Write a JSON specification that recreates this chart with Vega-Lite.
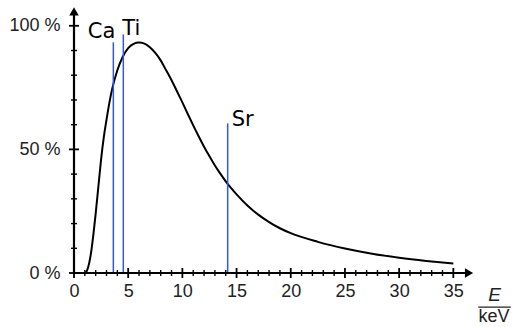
{
  "$schema": "https://vega.github.io/schema/vega-lite/v6.json",
  "width": 401,
  "height": 266,
  "autosize": {"type": "none"},
  "padding": {"left": 74, "top": 7, "right": 39, "bottom": 54},
  "background": "white",
  "config": {"view": {"stroke": null}},
  "datasets": {
    "curve": [
      {"E": 1.0, "I": 0}, {"E": 1.2, "I": 1}, {"E": 1.4, "I": 4}, {"E": 1.6, "I": 9},
      {"E": 1.8, "I": 16}, {"E": 2.0, "I": 24}, {"E": 2.25, "I": 35}, {"E": 2.5, "I": 46},
      {"E": 2.75, "I": 55}, {"E": 3.0, "I": 62}, {"E": 3.25, "I": 68.5}, {"E": 3.5, "I": 74}, {"E": 4.0, "I": 82},
      {"E": 4.5, "I": 87.5}, {"E": 5.0, "I": 91}, {"E": 5.5, "I": 92.7}, {"E": 6.0, "I": 93.2},
      {"E": 6.5, "I": 92.8}, {"E": 7.0, "I": 91.3}, {"E": 7.5, "I": 89}, {"E": 8.0, "I": 86},
      {"E": 8.5, "I": 82}, {"E": 9.0, "I": 78}, {"E": 9.5, "I": 73.5}, {"E": 10.0, "I": 69},
      {"E": 10.5, "I": 64.3}, {"E": 11.0, "I": 59.7}, {"E": 11.5, "I": 55.3}, {"E": 12.0, "I": 51.1},
      {"E": 12.5, "I": 47.2}, {"E": 13.0, "I": 43.5}, {"E": 13.5, "I": 40.2}, {"E": 14.0, "I": 37.1},
      {"E": 14.5, "I": 34.3}, {"E": 15.0, "I": 31.8}, {"E": 16.0, "I": 27.3}, {"E": 17.0, "I": 23.6},
      {"E": 18.0, "I": 20.6}, {"E": 19.0, "I": 18.1}, {"E": 20.0, "I": 16.1}, {"E": 22.5, "I": 12.6},
      {"E": 25.0, "I": 9.9}, {"E": 27.5, "I": 7.8}, {"E": 30.0, "I": 6.2}, {"E": 32.5, "I": 4.9},
      {"E": 35.0, "I": 3.8}
    ],
    "lines": [
      {"el": "Ca", "E": 3.63, "top": 93.3, "base": 0},
      {"el": "Ti", "E": 4.55, "top": 96.5, "base": 0},
      {"el": "Sr", "E": 14.18, "top": 60.5, "base": 0}
    ],
    "xticks": [
      {"t": 0, "k": "major"}, {"t": 1, "k": "minor"}, {"t": 2, "k": "minor"}, {"t": 3, "k": "minor"}, {"t": 4, "k": "minor"},
      {"t": 5, "k": "major"}, {"t": 6, "k": "minor"}, {"t": 7, "k": "minor"}, {"t": 8, "k": "minor"}, {"t": 9, "k": "minor"},
      {"t": 10, "k": "major"}, {"t": 11, "k": "minor"}, {"t": 12, "k": "minor"}, {"t": 13, "k": "minor"}, {"t": 14, "k": "minor"},
      {"t": 15, "k": "major"}, {"t": 16, "k": "minor"}, {"t": 17, "k": "minor"}, {"t": 18, "k": "minor"}, {"t": 19, "k": "minor"},
      {"t": 20, "k": "major"}, {"t": 21, "k": "minor"}, {"t": 22, "k": "minor"}, {"t": 23, "k": "minor"}, {"t": 24, "k": "minor"},
      {"t": 25, "k": "major"}, {"t": 26, "k": "minor"}, {"t": 27, "k": "minor"}, {"t": 28, "k": "minor"}, {"t": 29, "k": "minor"},
      {"t": 30, "k": "major"}, {"t": 31, "k": "minor"}, {"t": 32, "k": "minor"}, {"t": 33, "k": "minor"}, {"t": 34, "k": "minor"},
      {"t": 35, "k": "major"}
    ],
    "yticks": [
      {"t": 0, "k": "major"}, {"t": 10, "k": "minor"}, {"t": 20, "k": "minor"}, {"t": 30, "k": "minor"}, {"t": 40, "k": "minor"},
      {"t": 50, "k": "major"}, {"t": 60, "k": "minor"}, {"t": 70, "k": "minor"}, {"t": 80, "k": "minor"}, {"t": 90, "k": "minor"},
      {"t": 100, "k": "major"}
    ],
    "unit": [
      {"part": "num", "txt": "E", "x": 38.8, "y": -9.0},
      {"part": "den", "txt": "keV", "x": 38.75, "y": -18.0}
    ],
    "frac": [{"x1": 37.3, "x2": 40.3, "y": -13.8}],
    "xaxis": [{"x1": 0, "x2": 36.3, "y": 0}],
    "yaxis": [{"x": 0, "y1": 0, "y2": 105.5}],
    "arrows": [
      {"dir": "right", "x": 36.45, "y": 0},
      {"dir": "up", "x": 0, "y": 105.8}
    ]
  },
  "layer": [
    {
      "data": {"name": "curve"},
      "mark": {"type": "line", "color": "black", "strokeWidth": 2, "interpolate": "monotone"},
      "encoding": {
        "x": {"field": "E", "type": "quantitative", "scale": {"domain": [0, 37], "nice": false},
          "axis": {"values": [0, 5, 10, 15, 20, 25, 30, 35], "domain": false, "ticks": false, "grid": false,
            "labelFont": "Liberation Sans", "labelFontSize": 18, "labelColor": "#222", "labelPadding": 9,
            "labelFlush": false, "title": null}},
        "y": {"field": "I", "type": "quantitative", "scale": {"domain": [0, 107.6], "nice": false},
          "axis": {"values": [0, 50, 100], "domain": false, "ticks": false, "grid": false,
            "labelExpr": "datum.value + ' %'", "labelFont": "Liberation Sans", "labelFontSize": 18,
            "labelColor": "#222", "labelPadding": 14, "title": null}}
      }
    },
    {
      "data": {"name": "lines"},
      "mark": {"type": "rule", "color": "#3355f5", "strokeWidth": 1.5},
      "encoding": {
        "x": {"field": "E", "type": "quantitative"},
        "y": {"field": "top", "type": "quantitative"},
        "y2": {"field": "base"}
      }
    },
    {
      "data": {"name": "xaxis"},
      "mark": {"type": "rule", "color": "black", "strokeWidth": 2.2},
      "encoding": {"x": {"field": "x1", "type": "quantitative"}, "x2": {"field": "x2"}, "y": {"field": "y", "type": "quantitative"}}
    },
    {
      "data": {"name": "yaxis"},
      "mark": {"type": "rule", "color": "black", "strokeWidth": 2.2},
      "encoding": {"x": {"field": "x", "type": "quantitative"}, "y": {"field": "y1", "type": "quantitative"}, "y2": {"field": "y2"}}
    },
    {
      "data": {"name": "arrows"},
      "transform": [{"filter": "datum.dir == 'right'"}],
      "mark": {"type": "point", "shape": "triangle-right", "filled": true, "color": "black", "size": 90, "opacity": 1},
      "encoding": {"x": {"field": "x", "type": "quantitative"}, "y": {"field": "y", "type": "quantitative"}}
    },
    {
      "data": {"name": "arrows"},
      "transform": [{"filter": "datum.dir == 'up'"}],
      "mark": {"type": "point", "shape": "triangle-up", "filled": true, "color": "black", "size": 90, "opacity": 1},
      "encoding": {"x": {"field": "x", "type": "quantitative"}, "y": {"field": "y", "type": "quantitative"}}
    },
    {
      "data": {"name": "xticks"},
      "transform": [{"filter": "datum.k == 'major'"}],
      "mark": {"type": "rule", "color": "black", "strokeWidth": 1.8, "y": {"expr": "height - 5"}, "y2": {"expr": "height + 5"}},
      "encoding": {"x": {"field": "t", "type": "quantitative"}}
    },
    {
      "data": {"name": "xticks"},
      "transform": [{"filter": "datum.k == 'minor'"}],
      "mark": {"type": "rule", "color": "black", "strokeWidth": 1.4, "y": {"expr": "height - 3"}, "y2": {"expr": "height + 3"}},
      "encoding": {"x": {"field": "t", "type": "quantitative"}}
    },
    {
      "data": {"name": "yticks"},
      "transform": [{"filter": "datum.k == 'major'"}],
      "mark": {"type": "rule", "color": "black", "strokeWidth": 1.8, "x": -5, "x2": 5},
      "encoding": {"y": {"field": "t", "type": "quantitative"}}
    },
    {
      "data": {"name": "yticks"},
      "transform": [{"filter": "datum.k == 'minor'"}],
      "mark": {"type": "rule", "color": "black", "strokeWidth": 1.4, "x": -3, "x2": 3},
      "encoding": {"y": {"field": "t", "type": "quantitative"}}
    },
    {
      "data": {"name": "lines"},
      "transform": [{"filter": "datum.el == 'Ca'"}],
      "mark": {"type": "text", "align": "right", "baseline": "alphabetic", "dx": 2, "dy": -4, "font": "DejaVu Sans", "fontSize": 21, "color": "black"},
      "encoding": {"x": {"field": "E", "type": "quantitative"}, "y": {"field": "top", "type": "quantitative"}, "text": {"field": "el", "type": "nominal"}}
    },
    {
      "data": {"name": "lines"},
      "transform": [{"filter": "datum.el == 'Ti'"}],
      "mark": {"type": "text", "align": "left", "baseline": "alphabetic", "dx": -1, "dy": 1, "font": "DejaVu Sans", "fontSize": 21, "color": "black"},
      "encoding": {"x": {"field": "E", "type": "quantitative"}, "y": {"field": "top", "type": "quantitative"}, "text": {"field": "el", "type": "nominal"}}
    },
    {
      "data": {"name": "lines"},
      "transform": [{"filter": "datum.el == 'Sr'"}],
      "mark": {"type": "text", "align": "left", "baseline": "alphabetic", "dx": 4, "dy": 3, "font": "DejaVu Sans", "fontSize": 21, "color": "black"},
      "encoding": {"x": {"field": "E", "type": "quantitative"}, "y": {"field": "top", "type": "quantitative"}, "text": {"field": "el", "type": "nominal"}}
    },
    {
      "data": {"name": "unit"},
      "transform": [{"filter": "datum.part == 'num'"}],
      "mark": {"type": "text", "align": "center", "baseline": "middle", "font": "Liberation Sans", "fontSize": 19, "fontStyle": "italic", "color": "#222"},
      "encoding": {"x": {"field": "x", "type": "quantitative"}, "y": {"field": "y", "type": "quantitative"}, "text": {"field": "txt", "type": "nominal"}}
    },
    {
      "data": {"name": "unit"},
      "transform": [{"filter": "datum.part == 'den'"}],
      "mark": {"type": "text", "align": "center", "baseline": "middle", "font": "Liberation Sans", "fontSize": 18, "color": "#222"},
      "encoding": {"x": {"field": "x", "type": "quantitative"}, "y": {"field": "y", "type": "quantitative"}, "text": {"field": "txt", "type": "nominal"}}
    },
    {
      "data": {"name": "frac"},
      "mark": {"type": "rule", "color": "#222", "strokeWidth": 1.2},
      "encoding": {"x": {"field": "x1", "type": "quantitative"}, "x2": {"field": "x2"}, "y": {"field": "y", "type": "quantitative"}}
    }
  ]
}
